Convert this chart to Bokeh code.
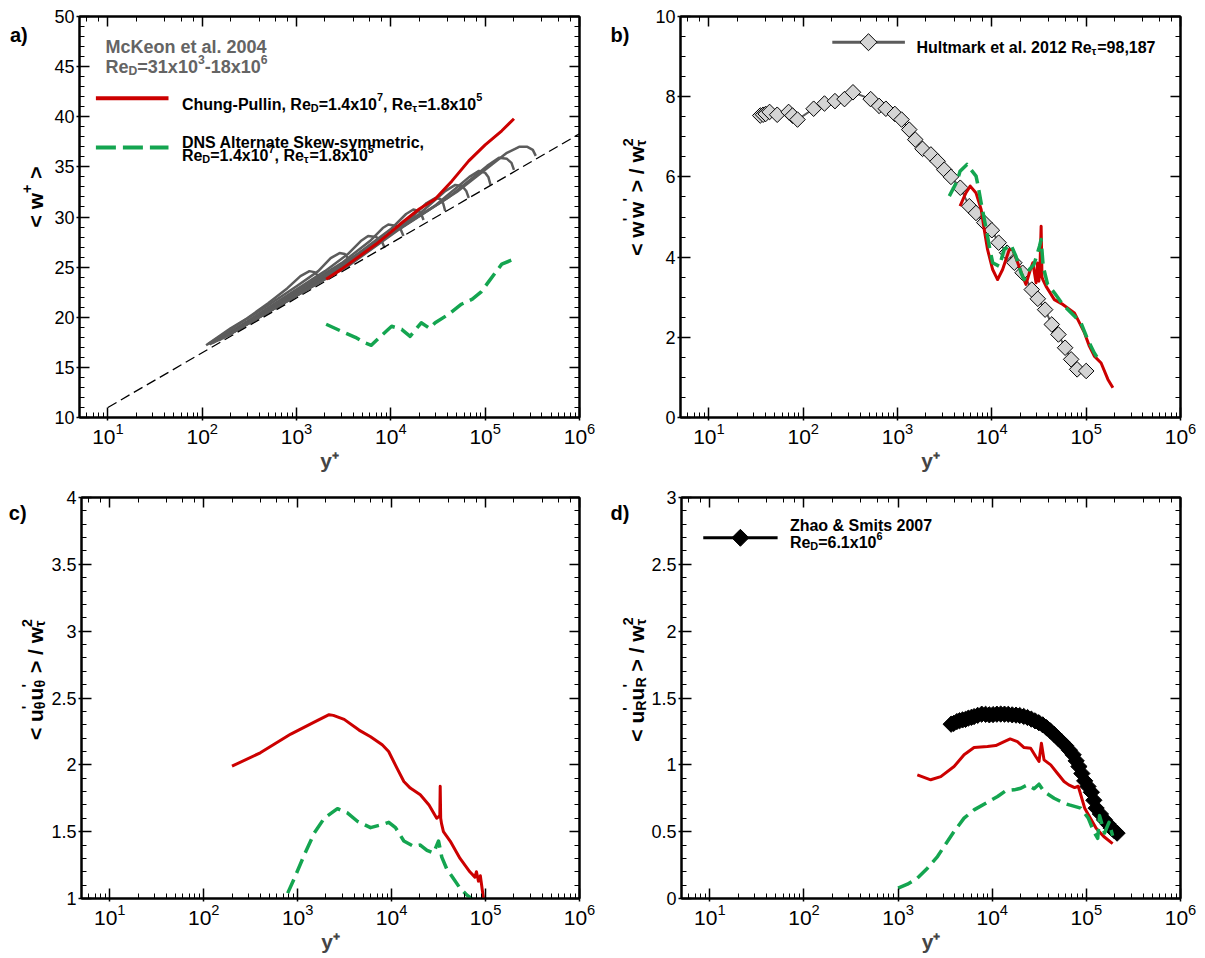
import math
from bokeh.plotting import figure
from bokeh.models import (Range1d, LogAxis, LinearAxis, LogTicker, SingleIntervalTicker,
                          NumeralTickFormatter, Label)
from bokeh.layouts import column, row
from bokeh.embed import file_html
from bokeh.resources import INLINE

# ======================= DATA =======================
# ---- panel a : mean velocity <w+> ----
mckeon_yplus = [
    [110, 200, 300, 500, 800, 1100, 1370, 1550, 1700, 1820],
    [115, 200, 500, 1000, 1700, 2300, 2860, 3250, 3500, 3650],
    [120, 300, 800, 2000, 3500, 4800, 5740, 7000, 8000, 8600],
    [125, 300, 1000, 3000, 6000, 8200, 9400, 11500, 12800, 13600],
    [130, 400, 1200, 4000, 10000, 14500, 17300, 19800, 21200, 22200],
    [140, 500, 1500, 5000, 15000, 24000, 29500, 33500, 36000, 37700],
    [150, 600, 2000, 7000, 20000, 38000, 48200, 57000, 63000, 67000],
    [165, 700, 2500, 9000, 30000, 68000, 86000, 100000, 108000, 114000],
    [180, 800, 3000, 10000, 40000, 105000, 140000, 170000, 190000, 202000],
    [200, 900, 3500, 12000, 50000, 170000, 229000, 280000, 320000, 344000],
]
mckeon_w = [
    [17.2, 18.9, 19.9, 21.4, 22.9, 24.1, 24.6, 24.5, 24.1, 23.5],
    [17.3, 18.8, 21.2, 23.1, 24.6, 25.9, 26.4, 26.3, 25.9, 25.4],
    [17.3, 19.6, 22.2, 24.6, 26.3, 27.6, 28.1, 28.0, 27.6, 26.9],
    [17.4, 19.5, 22.6, 25.4, 27.6, 28.9, 29.25, 29.1, 28.7, 28.1],
    [17.45, 20.1, 22.9, 26.0, 28.8, 30.3, 30.75, 30.6, 30.2, 29.7],
    [17.6, 20.6, 23.4, 26.6, 29.6, 31.4, 31.9, 31.8, 31.3, 30.6],
    [17.7, 21.0, 24.0, 27.4, 30.3, 32.6, 33.2, 33.1, 32.6, 31.9],
    [17.9, 21.3, 24.4, 28.0, 31.2, 34.0, 34.6, 34.4, 34.0, 33.2],
    [18.1, 21.6, 24.8, 28.3, 31.9, 35.1, 35.9, 35.8, 35.4, 34.7],
    [18.35, 21.9, 25.1, 28.7, 32.5, 36.4, 37.0, 37.0, 36.7, 36.1],
]
loglaw_yplus = [10, 1e6]
loglaw_w = [11.0, 38.3]
cp_a_yplus = [2060, 3000, 5000, 7000, 10000, 13000, 20000, 29500, 44500, 67000, 100000, 150000, 202000]
cp_a_w = [23.8, 24.8, 26.3, 27.3, 28.5, 29.4, 30.8, 31.8, 33.6, 35.6, 37.2, 38.6, 39.8]
dns_a_yplus = [2060, 3000, 4200, 5280, 6200, 8000, 10200, 13000, 16000, 21000, 25700, 29500,
               41000, 56000, 73000, 90000, 110000, 150000, 202000]
dns_a_w = [19.3, 18.6, 18.0, 17.45, 17.2, 18.2, 19.1, 18.8, 18.1, 19.45, 18.9, 19.45,
           20.3, 21.3, 21.8, 22.5, 23.6, 25.3, 25.8]

# ---- panel b : <w'w'>/w_tau^2 ----
hult_yplus = [35, 37.6, 40, 44, 53, 70, 77, 87, 129, 168, 217, 274, 337, 519, 638, 752, 937, 1103,
              1330, 1541, 1842, 2258, 2659, 3130, 3684, 4627, 5765, 6785, 8320, 10000, 11800, 14500,
              17300, 21200, 26500, 30700, 36700, 43200, 50800, 59800, 69300, 80200, 100000]
hult_ww = [7.53, 7.55, 7.57, 7.62, 7.55, 7.62, 7.53, 7.43, 7.70, 7.83, 7.89, 7.94, 8.11, 7.94, 7.77,
           7.70, 7.57, 7.43, 7.18, 6.93, 6.70, 6.56, 6.39, 6.18, 6.00, 5.73, 5.27, 5.10, 4.86, 4.67,
           4.36, 4.11, 3.86, 3.61, 3.19, 2.96, 2.69, 2.32, 2.07, 1.74, 1.45, 1.20, 1.16]
cp_b_yplus = [4600, 5300, 5900, 6800, 7700, 8300, 9000, 10200, 11500, 13000, 15300, 16600, 18800,
              21200, 23000, 25000, 27200, 29400, 30500, 31500, 32500, 33300, 34000, 34700, 37600,
              46000, 56500, 75000, 85000, 96000, 108000, 122000, 144000, 170000, 192000]
cp_b_ww = [5.27, 5.60, 5.77, 5.60, 5.19, 4.69, 4.19, 3.69, 3.44, 3.69, 4.19, 4.19, 3.86,
           3.52, 3.32, 3.61, 3.86, 3.36, 3.85, 3.40, 3.90, 4.77, 3.50, 3.44, 3.27,
           2.94, 2.82, 2.61, 2.36, 2.11, 1.78, 1.53, 1.36, 0.95, 0.74]
dns_b_yplus = [3540, 4270, 4600, 5450, 6800, 7100, 7700, 8600, 9400, 10200, 12000, 13500, 15900,
               18000, 20400, 22000, 25000, 28000, 32000, 33300, 35000, 39000, 46000, 56500, 75000,
               88000, 104000, 122000, 138000]
dns_b_ww = [5.52, 5.89, 6.14, 6.31, 6.02, 5.81, 5.35, 4.77, 4.27, 3.86, 3.77, 4.19, 4.31,
            4.02, 3.61, 3.44, 3.69, 3.82, 4.27, 4.44, 3.77, 3.32, 3.11, 2.82, 2.53,
            2.36, 1.94, 1.61, 1.41]

# ---- panel c : <u'theta u'theta>/w_tau^2 ----
cp_c_yplus = [200, 400, 845, 1500, 2160, 2400, 3125, 4500, 5970, 7940, 9300, 11400, 13500, 15800,
              20200, 25000, 30200, 32600, 32900, 33300, 34000, 35600, 42000, 53500, 68000, 77000,
              80000, 84000, 88000, 95000]
cp_c_uu = [1.99, 2.09, 2.23, 2.32, 2.375, 2.37, 2.34, 2.26, 2.21, 2.15, 2.10, 1.975, 1.875, 1.826,
           1.776, 1.70, 1.60, 1.62, 1.84, 1.60, 1.56, 1.50, 1.43, 1.30, 1.20, 1.16,
           1.20, 1.13, 1.17, 1.0]
dns_c_yplus = [783, 923, 1177, 1500, 1915, 2650, 3380, 4320, 5970, 7620, 9330, 11000, 13500, 17200,
               20200, 23800, 27900, 31600, 34200, 38700, 45500, 53500, 63000, 74000, 80000]
dns_c_uu = [1.04, 1.152, 1.327, 1.489, 1.60, 1.672, 1.64, 1.578, 1.53, 1.55, 1.57, 1.53, 1.43, 1.39,
            1.40, 1.36, 1.34, 1.43, 1.31, 1.22, 1.15, 1.077, 1.027, 0.99, 0.98]

# ---- panel d : <u'R u'R>/w_tau^2 ----
zs_yplus = [3660, 3900, 4210, 4500, 4840, 5200, 5570, 6000, 6410, 7000, 7730, 8500, 9310, 10200,
            11200, 12300, 13500, 14800, 16300, 17900, 19600, 21600, 23700, 26000, 28500, 31300,
            34400, 37700, 41400, 45400, 49900, 54800, 60100, 66000, 72400, 77900, 83400, 89500,
            96000, 104000, 113000, 120000, 127000, 141000, 156000, 170000, 184000, 198000, 212000]
zs_uu = [1.304, 1.31, 1.324, 1.33, 1.336, 1.34, 1.349, 1.355, 1.361, 1.37, 1.379, 1.378, 1.374,
         1.376, 1.379, 1.38, 1.379, 1.378, 1.374, 1.372, 1.369, 1.362, 1.354, 1.342, 1.329, 1.315,
         1.299, 1.278, 1.254, 1.228, 1.199, 1.172, 1.144, 1.11, 1.075, 1.03, 0.987, 0.935,
         0.880, 0.838, 0.795, 0.735, 0.676, 0.632, 0.588, 0.557, 0.526, 0.507, 0.489]
cp_d_yplus = [1600, 2220, 2840, 3930, 5020, 6410, 8890, 10900, 13400, 15500, 18500, 21800, 25600,
              29000, 31400, 33300, 35500, 41800, 49200, 57900, 65000, 75000, 82000, 96000, 127000,
              153000, 190000]
cp_d_uu = [0.925, 0.888, 0.912, 0.987, 1.075, 1.129, 1.137, 1.144, 1.174, 1.194, 1.174, 1.129, 1.124,
           1.062, 1.025, 1.162, 1.037, 1.0, 0.937, 0.875, 0.85, 0.83, 0.84, 0.676, 0.526,
           0.464, 0.41]
dns_d_yplus = [1000, 1257, 1600, 2050, 2620, 3080, 3930, 5020, 6410, 8890, 11400, 13900, 17100,
               20100, 23600, 27800, 31400, 35500, 45400, 57900, 66000, 87000, 105000, 120000,
               132000, 138000, 156000, 174000, 190000]
dns_d_uu = [0.077, 0.107, 0.152, 0.227, 0.314, 0.389, 0.501, 0.601, 0.663, 0.72, 0.763, 0.806, 0.813,
            0.825, 0.850, 0.821, 0.855, 0.80, 0.75, 0.713, 0.70, 0.676, 0.60, 0.50,
            0.45, 0.62, 0.49, 0.57, 0.47]

# ======================= STYLE =======================
FONT = "Liberation Sans"
RED = "#cc0000"
GREEN = "#14a550"
GRAY = "#5c5c5c"
FRAME_W, FRAME_H = 500, 401
X_LO, X_HI = 5, 1e6
STRIP_W = 48
SCRIPT = 0.68

WB = {' ': 278, '&': 722, "'": 238, '(': 333, ')': 333, '+': 584, ',': 278, '-': 333, '.': 278,
      '/': 278, '<': 584, '=': 584, '>': 584, 'A': 722, 'C': 722, 'D': 722, 'H': 722, 'K': 722,
      'M': 833, 'N': 722, 'P': 667, 'R': 722, 'S': 667, 'Z': 611, 'a': 556, 'c': 556, 'e': 556,
      'g': 611, 'h': 611, 'i': 278, 'k': 556, 'l': 278, 'm': 889, 'n': 611, 'o': 611, 'r': 389,
      's': 556, 't': 333, 'u': 611, 'w': 778, 'x': 556, 'y': 556, 'τ': 520, 'θ': 611}


def tw(s, size):
    return sum(WB.get(ch, 556) for ch in s) / 1000.0 * size


def rich(p, x, y, segs, size, color="black", vertical=False, center=False):
    """Bold text with sub/superscripts, built from several Labels (x, y in data units)."""
    items = []
    pos = 0.0
    for seg in segs:
        kind = seg[0]
        if kind == "n":
            parts = [(seg[1], size, 0.0)]
            adv = tw(seg[1], size)
        elif kind == "sup":
            parts = [(seg[1], size * SCRIPT, 0.42 * size)]
            adv = tw(seg[1], size * SCRIPT)
        elif kind == "sub":
            parts = [(seg[1], size * SCRIPT, -0.22 * size)]
            adv = tw(seg[1], size * SCRIPT)
        else:  # stacked superscript + subscript
            parts = [(seg[1], size * SCRIPT, 0.42 * size), (seg[2], size * SCRIPT, -0.22 * size)]
            adv = max(tw(seg[1], size * SCRIPT), tw(seg[2], size * SCRIPT))
        for text, sz, shift in parts:
            lead = len(text) - len(text.lstrip(' '))
            t = text.strip(' ')
            if t:
                items.append((t, sz, pos + tw(' ' * lead, sz), shift))
        pos += adv
    off0 = -pos / 2 if center else 0.0
    for t, sz, a, shift in items:
        if vertical:
            xo, yo, ang = -shift, off0 + a, math.pi / 2
        else:
            xo, yo, ang = off0 + a, shift, 0.0
        p.add_layout(Label(x=x, y=y, x_offset=xo, y_offset=yo, text=t, angle=ang,
                           text_font=FONT, text_font_style="bold",
                           text_font_size=f"{sz:.1f}px", text_color=color,
                           text_baseline="alphabetic", text_align="left"))


class Strip:
    """Narrow text-only figure left of each panel (holds the y title and panel letter)."""
    def __init__(self, height, page_left, page_top):
        self.pl, self.pt = page_left, page_top
        p = figure(width=STRIP_W, height=height, x_range=Range1d(0, STRIP_W),
                   y_range=Range1d(height, 0), output_backend="svg", toolbar_location=None,
                   x_axis_location=None, y_axis_location=None,
                   min_border_left=0, min_border_right=0, min_border_top=0, min_border_bottom=0)
        p.outline_line_color = None
        p.grid.visible = False
        p.background_fill_color = "white"
        p.border_fill_color = "white"
        self.p = p

    def rich(self, px, py, segs, size, **kw):
        rich(self.p, px - self.pl, py - self.pt, segs, size, **kw)


class Panel:
    def __init__(self, width, height, bl, br, bt, bb, ylo, yhi, yint, yminor, page_left, page_top):
        self.fl = page_left + bl
        self.ft = page_top + bt
        self.ylo, self.yhi = ylo, yhi
        p = figure(width=width, height=height, x_axis_type="log",
                   x_range=Range1d(X_LO, X_HI), y_range=Range1d(ylo, yhi),
                   output_backend="svg", toolbar_location=None,
                   min_border_left=bl, min_border_right=br, min_border_top=bt, min_border_bottom=bb)
        p.background_fill_color = "white"
        p.border_fill_color = "white"
        p.outline_line_color = "black"
        p.outline_line_width = 2
        p.xgrid.visible = False
        p.ygrid.visible = False
        p.yaxis.ticker = SingleIntervalTicker(interval=yint, num_minor_ticks=yminor)
        p.yaxis.formatter = NumeralTickFormatter(format="0.[0]")
        top = LogAxis(ticker=LogTicker())
        right = LinearAxis(ticker=SingleIntervalTicker(interval=yint, num_minor_ticks=yminor))
        p.add_layout(top, "above")
        p.add_layout(right, "right")
        bottom = p.below[0]
        left = p.left[0]
        for ax, lab, size in [(bottom, True, 21), (left, True, 18), (top, False, 1), (right, False, 1)]:
            ax.axis_line_color = "black"
            ax.axis_line_width = 2
            ax.major_tick_line_color = "black"
            ax.major_tick_line_width = 1.5
            ax.minor_tick_line_color = "black"
            ax.minor_tick_line_width = 1
            ax.major_tick_in = 10
            ax.major_tick_out = 3 if lab else 0
            ax.minor_tick_in = 5
            ax.minor_tick_out = 0
            ax.major_label_text_font = FONT
            ax.major_label_text_color = "black"
            ax.major_label_text_font_size = f"{size}px"
            ax.major_label_standoff = 2 if lab else 0
            if not lab:
                ax.major_label_text_alpha = 0
        bottom.axis_label = "y\u207a"
        bottom.axis_label_text_font = FONT
        bottom.axis_label_text_font_style = "bold"
        bottom.axis_label_text_font_size = "21px"
        bottom.axis_label_standoff = 2
        self.p = p

    def data(self, px, py):
        l0, l1 = math.log10(X_LO), math.log10(X_HI)
        x = 10 ** (l0 + (px - self.fl) / FRAME_W * (l1 - l0))
        y = self.yhi - (py - self.ft) / FRAME_H * (self.yhi - self.ylo)
        return x, y

    def rich(self, px, py, segs, size, **kw):
        x, y = self.data(px, py)
        rich(self.p, x, y, segs, size, **kw)

    def hline(self, px0, px1, py, **kw):
        x0, y0 = self.data(px0, py)
        x1, _ = self.data(px1, py)
        self.p.line([x0, x1], [y0, y0], **kw)

    def marker(self, px, py, **kw):
        x, y = self.data(px, py)
        self.p.scatter([x], [y], marker="square", angle=math.pi / 4, **kw)


# ======================= PANELS =======================
SA = Strip(481, 0, 0)
A = Panel(552, 481, 31, 21, 16, 64, 10, 50, 5, 5, STRIP_W, 0)
SB = Strip(481, 600, 0)
B = Panel(557, 481, 32, 25, 16, 64, 0, 10, 2, 4, 600 + STRIP_W, 0)
SC = Strip(477, 0, 481)
C = Panel(552, 477, 31, 21, 16, 60, 1, 4, 0.5, 5, STRIP_W, 481)
SD = Strip(477, 600, 481)
D = Panel(557, 477, 32, 25, 16, 60, 0, 3, 0.5, 5, 600 + STRIP_W, 481)

DASH = "15 7"

# ---- a ----
pa = A.p
pa.multi_line(mckeon_yplus, mckeon_w, line_color=GRAY, line_width=2.5, line_join="round")
pa.line(loglaw_yplus, loglaw_w, line_color="black", line_width=1.3, line_dash="10 5")
pa.line(cp_a_yplus, cp_a_w, line_color=RED, line_width=3, line_join="round")
pa.line(dns_a_yplus, dns_a_w, line_color=GREEN, line_width=3.5, line_dash=DASH, line_join="round")

A.rich(105, 46.7, [("n", "McKeon et al. 2004")], 18, color="#646464")
A.rich(105, 66.7, [("n", "Re"), ("sub", "D"), ("n", "=31x10"), ("sup", "3"), ("n", "-18x10"), ("sup", "6")], 18, color="#646464")
A.hline(95.4, 168, 97.7, line_color=RED, line_width=4)
A.rich(181.4, 103.5, [("n", "Chung-Pullin, Re"), ("sub", "D"), ("n", "=1.4x10"), ("sup", "7"), ("n", ", Re"), ("sub", "τ"), ("n", "=1.8x10"), ("sup", "5")], 16)
A.hline(95.4, 168, 147, line_color=GREEN, line_width=4, line_dash="20 7")
A.rich(181.4, 141.7, [("n", "DNS Alternate Skew-symmetric,")], 16)
A.rich(181.4, 155, [("n", "Re"), ("sub", "D"), ("n", "=1.4x10"), ("sup", "7"), ("n", ", Re"), ("sub", "τ"), ("n", "=1.8x10"), ("sup", "5")], 16)

# ---- b ----
pb = B.p
pb.line(hult_yplus, hult_ww, line_color=GRAY, line_width=2)
pb.scatter(hult_yplus, hult_ww, marker="square", angle=math.pi / 4, size=11,
           fill_color="#d4d4d4", line_color="black", line_width=1)
pb.line(cp_b_yplus, cp_b_ww, line_color=RED, line_width=3, line_join="round")
pb.line(dns_b_yplus, dns_b_ww, line_color=GREEN, line_width=3.5, line_dash=DASH, line_join="round")
B.hline(831.8, 904.4, 41.7, line_color=GRAY, line_width=3)
B.marker(868, 41.7, size=12, fill_color="#d4d4d4", line_color="black", line_width=1)
B.rich(915.9, 47, [("n", "Hultmark et al. 2012 Re"), ("sub", "τ"), ("n", "=98,187")], 16)

# ---- c ----
pc = C.p
pc.line(cp_c_yplus, cp_c_uu, line_color=RED, line_width=3, line_join="round")
pc.line(dns_c_yplus, dns_c_uu, line_color=GREEN, line_width=3.5, line_dash=DASH, line_join="round")

# ---- d ----
pd_ = D.p
pd_.line(zs_yplus, zs_uu, line_color="black", line_width=2.5)
pd_.scatter(zs_yplus, zs_uu, marker="square", angle=math.pi / 4, size=11.5,
            fill_color="black", line_color="black", line_width=1)
pd_.line(cp_d_yplus, cp_d_uu, line_color=RED, line_width=3, line_join="round")
pd_.line(dns_d_yplus, dns_d_uu, line_color=GREEN, line_width=3.5, line_dash=DASH, line_join="round")
D.hline(701.8, 776.3, 537.3, line_color="black", line_width=3)
D.marker(739, 537.3, size=12, fill_color="black", line_color="black", line_width=1)
D.rich(788.6, 525, [("n", "Zhao & Smits 2007")], 16)
D.rich(788.6, 542, [("n", "Re"), ("sub", "D"), ("n", "=6.1x10"), ("sup", "6")], 16)

# ---- y titles & panel letters (in the strips) ----
SA.rich(35, 216.5, [("n", "< w"), ("sup", "+"), ("n", " >")], 21, vertical=True, center=True)
SB.rich(636, 216.5, [("n", "< w"), ("sup", "'"), ("n", "w"), ("sup", "'"), ("n", " > / w"), ("stack", "2", "τ")], 21, vertical=True, center=True)
SC.rich(35, 697.5, [("n", "< u"), ("stack", "'", "θ"), ("n", "u"), ("stack", "'", "θ"), ("n", " > / w"), ("stack", "2", "τ")], 21, vertical=True, center=True)
SD.rich(636, 697.5, [("n", "< u"), ("stack", "'", "R"), ("n", "u"), ("stack", "'", "R"), ("n", " > / w"), ("stack", "2", "τ")], 21, vertical=True, center=True)

SA.rich(9.4, 21.7, [("n", "a)")], 20)
SB.rich(610, 21.7, [("n", "b)")], 20)
SC.rich(8.3, 500, [("n", "c)")], 20)
SD.rich(610, 500, [("n", "d)")], 20)

layout = column(row(SA.p, A.p, SB.p, B.p), row(SC.p, C.p, SD.p, D.p))
with open("out.html", "w") as f:
    f.write(file_html(layout, INLINE))
